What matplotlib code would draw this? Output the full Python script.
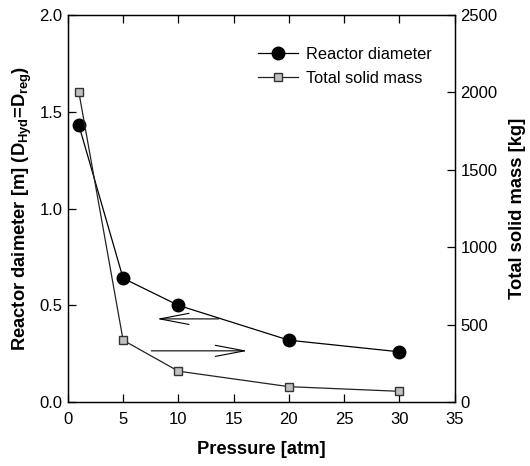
import matplotlib
matplotlib.use('Agg')
import matplotlib.pyplot as plt

plt.rcParams['font.family'] = ['Liberation Sans', 'DejaVu Sans']
plt.rcParams['mathtext.fontset'] = 'custom'
plt.rcParams['mathtext.rm'] = 'Liberation Sans:bold'
plt.rcParams['mathtext.bf'] = 'Liberation Sans:bold'
plt.rcParams['mathtext.it'] = 'Liberation Sans:bold'

pressure = [1, 5, 10, 20, 30]
diameter = [1.43, 0.64, 0.50, 0.32, 0.26]
solid_mass = [2000, 400, 200, 100, 70]

fig = plt.figure(figsize=(5.3, 4.66), dpi=100)
ax = fig.add_axes([0.128, 0.137, 0.730, 0.831])
ax2 = ax.twinx()

l1, = ax.plot(pressure, diameter, color='black', lw=0.9, marker='o',
              markersize=9, markerfacecolor='black', markeredgecolor='black',
              label='Reactor diameter', zorder=3)
l2, = ax2.plot(pressure, solid_mass, color='#222222', lw=0.9, marker='s',
               markersize=5.8, markerfacecolor='#c0c0c0', markeredgecolor='#333333',
               label='Total solid mass', zorder=3)

ax.set_xlim(0, 35)
ax.set_ylim(0, 2.0)
ax2.set_ylim(0, 2500)
ax.set_xticks(range(0, 36, 5))
ax.set_yticks([0, 0.5, 1.0, 1.5, 2.0])
ax.set_yticklabels(['0.0', '0.5', '1.0', '1.5', '2.0'])
ax2.set_yticks(range(0, 2501, 500))

ax.tick_params(axis='x', direction='in', top=True, length=6, width=0.9, labelsize=12, pad=7)
ax.tick_params(axis='y', direction='in', length=6, width=0.9, labelsize=12, pad=4)
ax2.tick_params(axis='y', direction='in', length=6, width=0.9, labelsize=12, pad=4)
for a in (ax, ax2):
    for s in a.spines.values():
        s.set_linewidth(0.9)

ax.set_xlabel('Pressure [atm]', fontsize=13.2, fontweight='bold', labelpad=10)
ax.set_ylabel(r'Reactor daimeter [m] (D$_{Hyd}$=D$_{reg}$)', fontsize=13.2,
              fontweight='bold', labelpad=4)
ax2.set_ylabel('Total solid mass [kg]', fontsize=13.2, fontweight='bold', labelpad=8)

# direction arrows
ax.annotate('', xy=(7.8, 0.43), xytext=(13.9, 0.43),
            arrowprops=dict(arrowstyle='->, head_length=2.1, head_width=0.4', color='black', lw=0.8))
ax.annotate('', xy=(16.5, 0.265), xytext=(7.3, 0.265),
            arrowprops=dict(arrowstyle='->, head_length=2.1, head_width=0.4', color='black', lw=0.8))

ax2.legend([l1, l2], ['Reactor diameter', 'Total solid mass'], loc='upper right',
           bbox_to_anchor=(0.978, 0.955), frameon=False, fontsize=11.8,
           handlelength=2.4, handletextpad=0.5, labelspacing=0.55)

fig.savefig('out.png', dpi=100)
